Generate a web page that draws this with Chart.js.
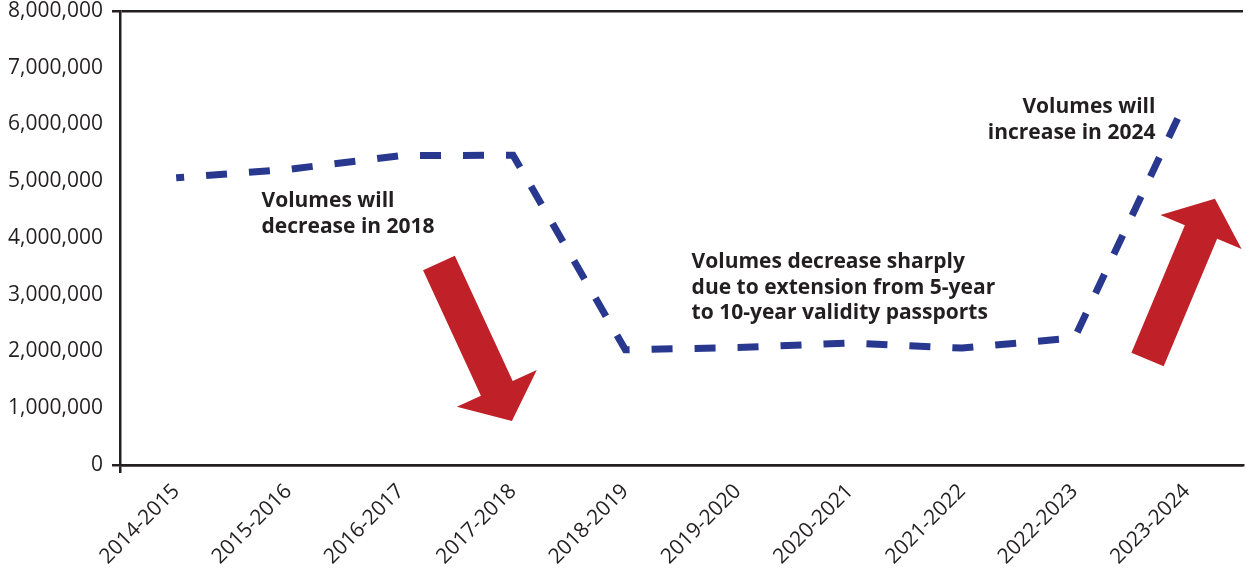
<!DOCTYPE html>
<html>
<head>
<meta charset="utf-8">
<script src="https://cdn.jsdelivr.net/npm/chart.js@4/dist/chart.umd.min.js"></script>
<style>
  html, body { margin: 0; padding: 0; background: #fff; }
</style>
</head>
<body>
<canvas id="volumes" width="1246" height="573"></canvas>
<script>
// Financial years along the x-axis
var years = ['2014-2015', '2015-2016', '2016-2017', '2017-2018', '2018-2019',
             '2019-2020', '2020-2021', '2021-2022', '2022-2023', '2023-2024'];
// Passport application volumes
var volumes = [5060000, 5210000, 5450000, 5460000, 2030000,
               2070000, 2150000, 2060000, 2240000, 6450000];
// y-axis range
var yMin = 0, yMax = 8000000, yStep = 1000000;

// Notes on the chart, placed in data terms (category index, value)
var notes = [
  { lines: ['Volumes will', 'decrease in 2018'], x: 0.76, y: 4540000, align: 'left' },
  { lines: ['Volumes decrease sharply', 'due to extension from 5-year', 'to 10-year validity passports'], x: 4.59, y: 3470000, align: 'left' },
  { lines: ['Volumes will', 'increase in 2024'], x: 8.72, y: 6200000, align: 'right' }
];
// Red arrows: from tail to tip
var arrows = [
  { from: [2.34, 3560000], to: [2.99, 775000] },
  { from: [8.65, 1860000], to: [9.25, 4690000] }
];

var ink = '#231f20';

var notesPlugin = {
  id: 'notes',
  afterDatasetsDraw: function (chart) {
    var c = chart.ctx, xs = chart.scales.x, ys = chart.scales.y;
    c.save();
    // arrows
    arrows.forEach(function (a) {
      var tx = xs.getPixelForValue(a.from[0]), ty = ys.getPixelForValue(a.from[1]);
      var px = xs.getPixelForValue(a.to[0]), py = ys.getPixelForValue(a.to[1]);
      var len = Math.hypot(px - tx, py - ty);
      var ux = (px - tx) / len, uy = (py - ty) / len;
      var nx = -uy, ny = ux;
      var w = 17.5, h = 44, hl = 36;
      var bx = px - ux * hl, by = py - uy * hl;
      c.beginPath();
      c.moveTo(tx + nx * w, ty + ny * w);
      c.lineTo(bx + nx * w, by + ny * w);
      c.lineTo(bx + nx * h, by + ny * h);
      c.lineTo(px, py);
      c.lineTo(bx - nx * h, by - ny * h);
      c.lineTo(bx - nx * w, by - ny * w);
      c.lineTo(tx - nx * w, ty - ny * w);
      c.closePath();
      c.fillStyle = '#c02027';
      c.fill();
    });
    // text
    c.fillStyle = ink;
    c.font = 'bold 21px "Open Sans"';
    c.textBaseline = 'alphabetic';
    notes.forEach(function (n) {
      var x = xs.getPixelForValue(n.x), y = ys.getPixelForValue(n.y);
      c.textAlign = n.align;
      n.lines.forEach(function (t, i) {
        c.fillText(t, x, y + i * 25.5);
      });
    });
    c.restore();
  }
};

var ctx = document.getElementById('volumes');
var chart = new Chart(ctx, {
  type: 'line',
  data: {
    labels: years,
    datasets: [
      {
        data: volumes,
        borderColor: '#29388f',
        borderWidth: 7,
        borderDash: [21, 22],
        borderDashOffset: 13,
        pointRadius: 0,
        fill: false,
        tension: 0
      }
    ]
  },
  options: {
    responsive: false,
    animation: false,
    layout: { padding: { top: 11, right: 3, left: 0, bottom: 0 } },
    plugins: { legend: { display: false }, tooltip: { enabled: false } },
    scales: {
      x: {
        offset: true,
        grid: {
          offset: true,
          drawOnChartArea: false,
          tickLength: 8,
          lineWidth: 2.5,
          color: function (c) { return c.index === 0 ? ink : 'rgba(0,0,0,0)'; }
        },
        border: { display: true, color: ink, width: 2.5 },
        ticks: {
          color: ink,
          font: { family: '"Open Sans"', size: 21 },
          maxRotation: 45,
          minRotation: 45,
          padding: 6,
          autoSkip: false
        },
        afterFit: function (s) { s.height = 108; s.paddingLeft = 0; s.paddingRight = 0; }
      },
      y: {
        min: yMin,
        max: yMax,
        grid: {
          tickLength: 8,
          lineWidth: 2.5,
          color: function (c) {
            return (c.tick && (c.tick.value === yMin || c.tick.value === yMax)) ? ink : 'rgba(0,0,0,0)';
          }
        },
        border: { display: true, color: ink, width: 2.5 },
        ticks: {
          stepSize: yStep,
          color: ink,
          font: { family: '"Open Sans"', size: 21 },
          padding: 9,
          callback: function (v) { return v.toLocaleString('en-US'); }
        },
        afterFit: function (s) { s.width = 120; s.paddingTop = 0; s.paddingBottom = 0; }
      }
    }
  },
  plugins: [notesPlugin]
});
</script>
</body>
</html>
